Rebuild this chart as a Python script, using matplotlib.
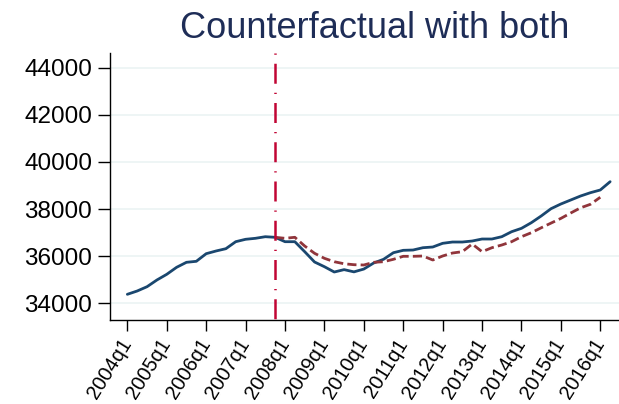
import matplotlib.pyplot as plt

plt.rcParams['font.family'] = ['Liberation Sans', 'DejaVu Sans']

# quarterly series, 2004q1 .. 2016q2
years = list(range(2004, 2017))
quarter_labels = [f"{y}q1" for y in years]

actual = [34370, 34511, 34694, 34979, 35221, 35519, 35732, 35774,
          36098, 36213, 36311, 36609, 36711, 36753, 36821, 36796,
          36609, 36609, 36184, 35745, 35545, 35319, 35420, 35325,
          35445, 35702, 35859, 36140, 36242, 36255, 36353, 36383,
          36540, 36595, 36595, 36638, 36723, 36723, 36821, 37034,
          37177, 37417, 37702, 38013, 38213, 38383, 38553, 38694,
          38809, 39162]

# counterfactual path, starts at 2007q4
cf_start = 15
counterfactual = [36796, 36753, 36796, 36425, 36115, 35902, 35757, 35670,
                  35630, 35617, 35732, 35757, 35859, 35987, 35987, 36000,
                  35830, 36000, 36127, 36184, 36511, 36184, 36353, 36468,
                  36609, 36821, 36991, 37200, 37400, 37600, 37830, 38050,
                  38200, 38500]

yticks = [34000, 36000, 38000, 40000, 42000, 44000]
break_q = 15

fig = plt.figure(figsize=(6.19, 4.04), dpi=100)
ax = fig.add_axes([110 / 619, 1 - 320 / 404, 1 - 110 / 619, (320 - 53) / 404])

for v in yticks:
    ax.axhline(v, color='#eaf2f3', lw=1.1, zorder=0)

x_act = list(range(len(actual)))
x_cf = list(range(cf_start, cf_start + len(counterfactual)))

ax.plot(x_act, actual, color='#1a476f', lw=2.0, solid_capstyle='round', zorder=3)
ax.plot(x_cf, counterfactual, color='#90353b', lw=2.0,
        linestyle=(0, (3.3, 1.5)), zorder=3)

ylo, yhi = 33277, 44638
ax.plot([break_q, break_q], [yhi, ylo], color='#c10534', lw=1.8,
        linestyle=(11.6, (8, 3.6, 0.5, 3.6)), zorder=4)

ax.set_xlim(-1.76, 49.9)
ax.set_ylim(ylo, yhi)

ax.set_yticks(yticks)
ax.set_yticklabels([str(v) for v in yticks], fontsize=17.5)
ax.set_xticks([4 * i for i in range(len(years))])
ax.set_xticklabels(quarter_labels, fontsize=14.5, rotation=58,
                   ha='right', va='center', rotation_mode='anchor')

ax.tick_params(axis='both', width=1, color='black')
ax.tick_params(axis='y', length=8.5, pad=4.3)
ax.tick_params(axis='x', length=8, pad=6.5)
for s in ['top', 'right']:
    ax.spines[s].set_visible(False)
for s in ['left', 'bottom']:
    ax.spines[s].set_linewidth(1)
    ax.spines[s].set_color('black')

fig.text(374.5 / 619, 1 - 38 / 404, 'Counterfactual with both', ha='center',
         va='baseline', fontsize=26, color='#1e2d57')

fig.savefig('out.png', dpi=100)
